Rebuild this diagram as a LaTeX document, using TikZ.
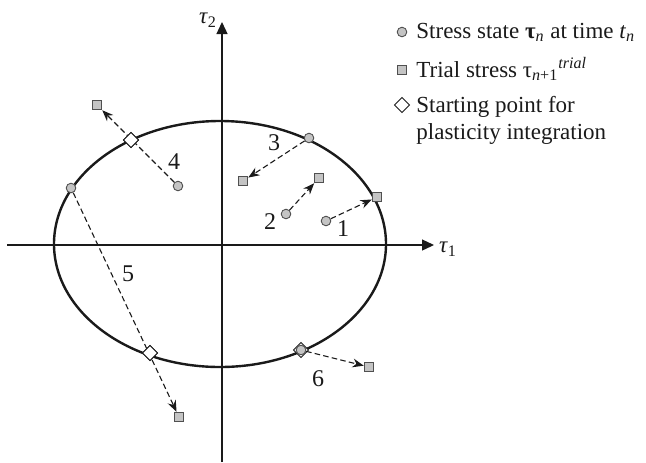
\documentclass[tikz,border=0pt]{standalone}
\usepackage{fontspec}
\setmainfont{Liberation Serif}
\usetikzlibrary{arrows.meta,shapes.geometric}
\definecolor{mk}{HTML}{505050}
\definecolor{mkfill}{HTML}{C4C4C4}
\definecolor{ink}{HTML}{1A1A1A}
\begin{document}
\begin{tikzpicture}[x=0.5pt,y=-0.5pt,
  font=\fontsize{11.5}{14}\selectfont,
  st/.style={circle,draw=mk,fill=mkfill,line width=0.45pt,minimum size=4.8pt,inner sep=0pt},
  tr/.style={rectangle,draw=mk,fill=mkfill,line width=0.45pt,minimum size=4.8pt,inner sep=0pt},
  sp/.style={diamond,draw=ink,fill=white,line width=0.45pt,minimum size=7.6pt,inner sep=0pt},
  dline/.style={draw=ink,line width=0.55pt,dash pattern=on 2.8pt off 1.6pt,-{Stealth[length=5.6pt,width=4.4pt]}},
  axisline/.style={draw=ink,line width=0.65pt,-{Triangle[length=6pt,width=5.5pt]}},
  num/.style={font=\fontsize{12}{14}\selectfont,inner sep=0pt,text=ink},
  leg/.style={anchor=base west,inner sep=0pt,text=ink}
]
\useasboundingbox (0,0) rectangle (646,462);
% axes
\coordinate (xa) at (7,245);
\coordinate (xb) at (434,245);
\coordinate (ya) at (222,462);
\coordinate (yb) at (222,22);
\draw[axisline] (xa) -- (xb);
\draw[axisline] (ya) -- (yb);
\node[inner sep=0pt,text=ink] (t1) at (448,249) {\textit{τ}\textsubscript{1}};
\node[inner sep=0pt,text=ink] (t2) at (208,20) {\textit{τ}\textsubscript{2}};
% yield surface
\draw[ink,line width=1.2pt] (220,244) ellipse [x radius=166, y radius=123];
% starting points (diamonds)
\node[sp] (d4) at (131,140) {};
\node[sp] (d5) at (150,353) {};
\node[sp] (d6) at (301,350) {};
% stress states
\node[st] (c1) at (326,221) {};
\node[st] (c2) at (286,214) {};
\node[st] (c3) at (309,138) {};
\node[st] (c4) at (178,186) {};
\node[st] (c5) at (71,188) {};
\node[st] (c6) at (301,350) {};
% trial stresses
\node[tr] (s1) at (377,197) {};
\node[tr] (s2) at (319,178) {};
\node[tr] (s3) at (243,181) {};
\node[tr] (s4) at (97,105) {};
\node[tr] (s5) at (179,417) {};
\node[tr] (s6) at (369,367) {};
% connectors
\draw[dline] (c1) -- (s1);
\draw[dline] (c2) -- (s2);
\draw[dline] (c3) -- (s3);
\draw[dline] (c4) -- (s4);
\draw[dline] (c5) -- (s5);
\draw[dline] (c6) -- (s6);
% redraw diamonds on top of dashed lines
\node[sp] at (d4) {};
\node[sp] at (d5) {};
% labels
\node[num] (n1) at (343,229) {1};
\node[num] (n2) at (270,222) {2};
\node[num] (n3) at (274,143) {3};
\node[num] (n4) at (174,162) {4};
\node[num] (n5) at (128,274) {5};
\node[num] (n6) at (318,379) {6};
% legend
\node[st] (l1) at (402,32) {};
\node[tr] (l2) at (402,70) {};
\node[sp] (l3) at (402,105) {};
\node[leg] (lt1) at (416,38) {Stress state \textbf{τ}\textsubscript{\textit{n}} at time \textit{t}\textsubscript{\textit{n}}};
\node[leg] (lt2) at (416,77) {Trial stress τ\textsubscript{\textit{n}+1}\textsuperscript{\textit{trial}}};
\node[leg] (lt3) at (416,112) {Starting point for};
\node[leg] (lt4) at (416,139) {plasticity integration};
\end{tikzpicture}
\end{document}
